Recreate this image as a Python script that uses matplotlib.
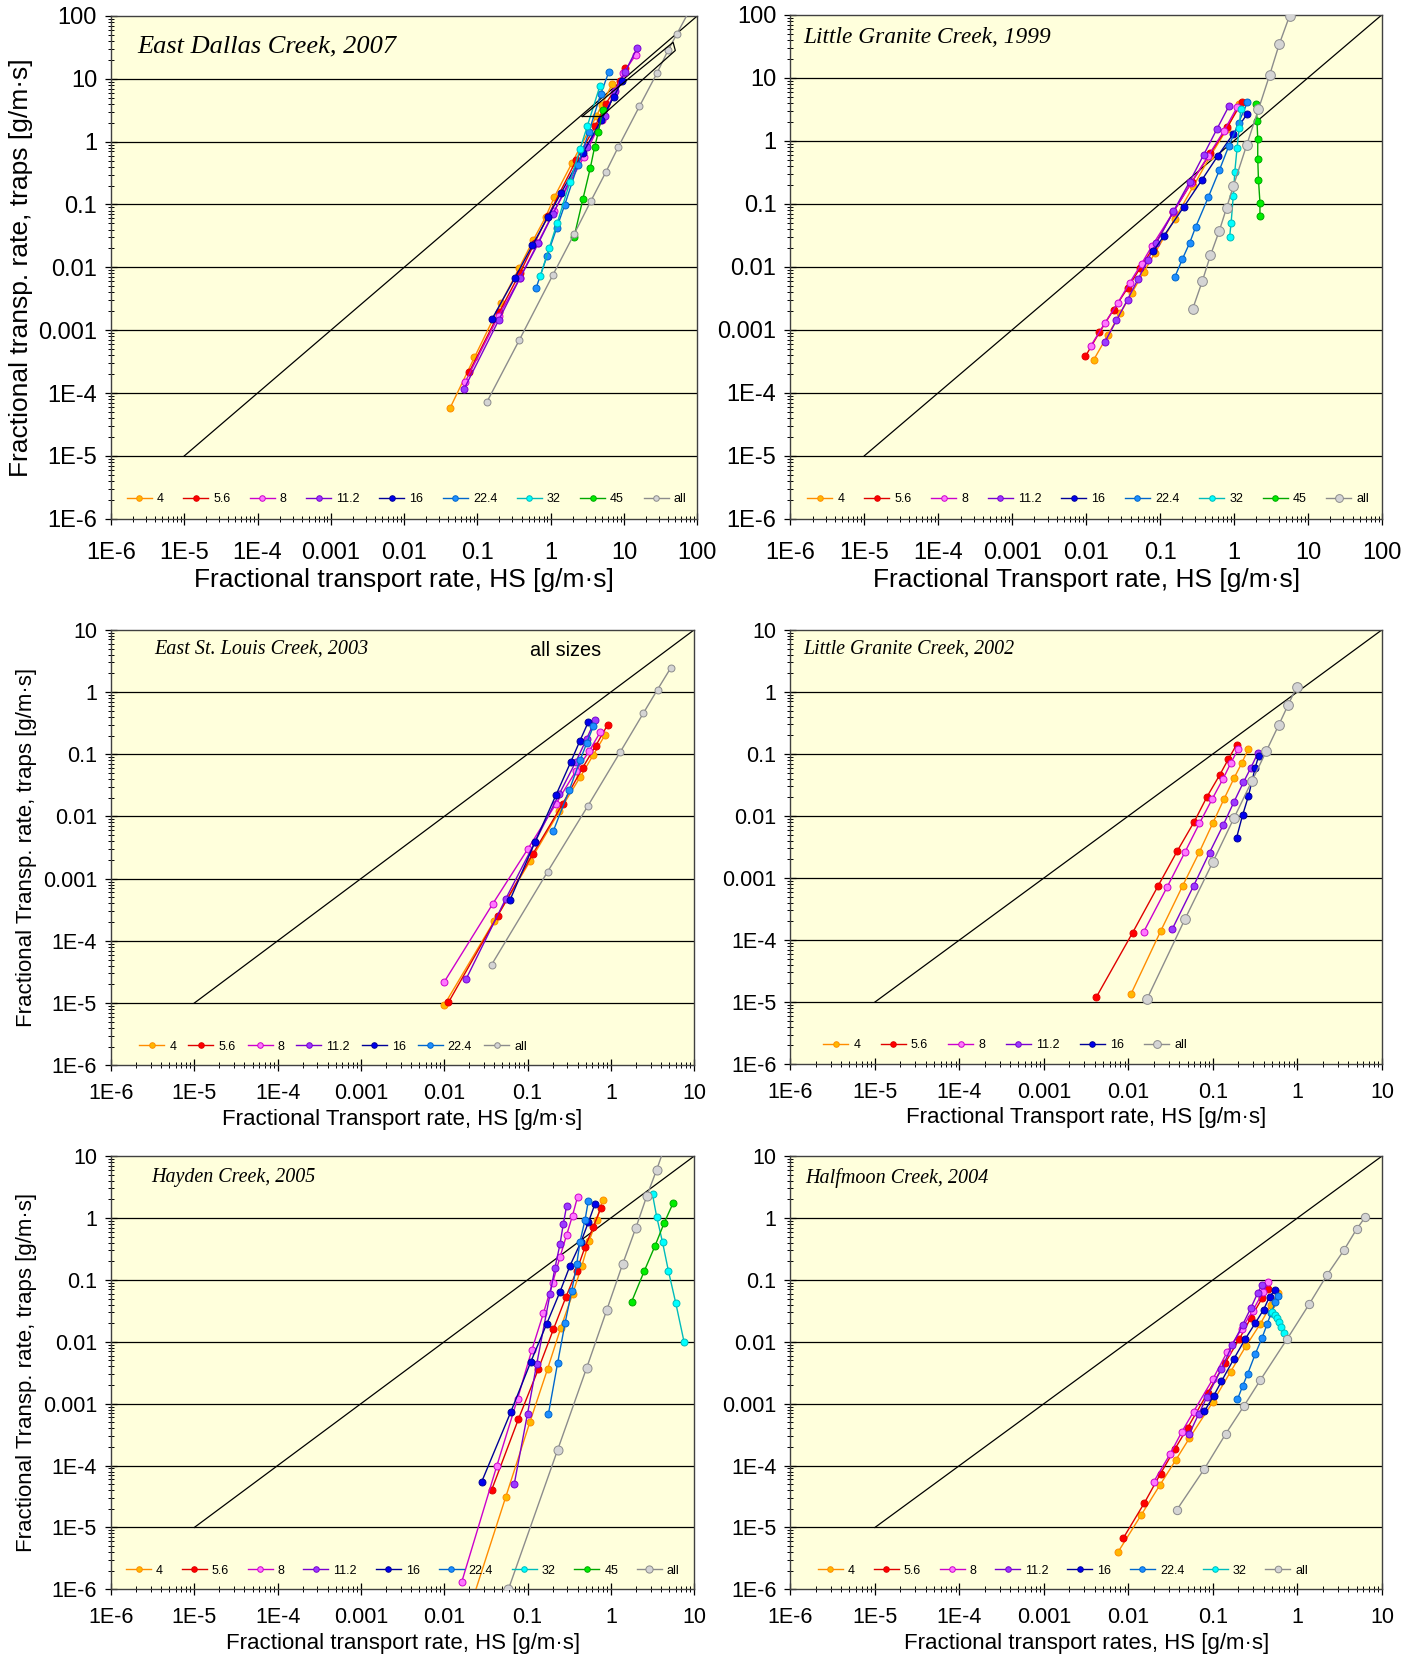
import numpy as np
import matplotlib
matplotlib.use("Agg")
import matplotlib.pyplot as plt
from matplotlib.ticker import FixedLocator, LogLocator, FuncFormatter, NullFormatter

plt.rcParams['font.family'] = ['Liberation Sans', 'DejaVu Sans']

# all readings are log10 of the rate [g/m·s]: x = HS sampler, y = bedload traps

# --- East Dallas Creek, 2007
ed_4x = [-1.37, -1.04, -0.68, -0.43, -0.24, -0.07, 0.05, 0.29, 0.62, 0.70, 0.84]
ed_4y = [-4.23, -3.43, -2.57, -2.01, -1.57, -1.20, -0.88, -0.34, 0.40, 0.59, 0.92]
ed_56x = [-1.11, -0.70, -0.42, -0.22, -0.04, 0.35, 0.61, 0.75, 0.95, 1.01]
ed_56y = [-3.66, -2.71, -2.09, -1.61, -1.19, -0.29, 0.25, 0.60, 0.96, 1.17]
ed_8x = [-1.17, -0.71, -0.42, -0.18, 0.05, 0.45, 0.70, 0.87, 0.99, 1.16]
ed_8y = [-3.83, -2.77, -2.17, -1.62, -1.10, -0.25, 0.35, 0.78, 1.09, 1.38]
ed_112x = [-1.18, -0.71, -0.42, -0.17, 0.03, 0.49, 0.74, 0.88, 1.01, 1.18]
ed_112y = [-3.93, -2.84, -2.17, -1.62, -1.15, -0.08, 0.40, 0.80, 1.10, 1.49]
ed_16x = [-0.80, -0.49, -0.25, -0.04, 0.14, 0.44, 0.69, 0.86, 0.97]
ed_16y = [-2.82, -2.17, -1.65, -1.20, -0.82, -0.18, 0.35, 0.71, 0.96]
ed_224x = [-0.20, -0.05, 0.08, 0.19, 0.37, 0.52, 0.68, 0.79]
ed_224y = [-2.33, -1.82, -1.38, -1.01, -0.37, 0.15, 0.75, 1.10]
ed_32x = [-0.14, -0.02, 0.09, 0.26, 0.40, 0.50, 0.67]
ed_32y = [-2.13, -1.69, -1.29, -0.65, -0.12, 0.25, 0.88]
ed_45x = [0.32, 0.44, 0.54, 0.60, 0.65, 0.71]
ed_45y = [-1.51, -0.91, -0.42, -0.08, 0.15, 0.50]
ed_allx = [-0.87, -0.43, 0.03, 0.32, 0.55, 0.75, 0.92, 1.21, 1.45, 1.60, 1.72, 1.90]
ed_ally = [-4.14, -3.16, -2.12, -1.47, -0.94, -0.49, -0.09, 0.56, 1.09, 1.45, 1.71, 2.10]
ed_boxx = [0.43, 1.67, 1.70, 0.69, 0.43]
ed_boxy = [0.40, 1.58, 1.45, 0.40, 0.40]

# --- Little Granite Creek, 1999
g99_4x = [-1.90, -1.71, -1.54, -1.38, -1.22, -1.07, -0.80, -0.55, -0.32, -0.10, 0.07]
g99_4y = [-3.48, -3.09, -2.74, -2.41, -2.08, -1.78, -1.24, -0.72, -0.24, 0.18, 0.58]
g99_56x = [-2.01, -1.82, -1.63, -1.44, -1.27, -1.10, -0.82, -0.57, -0.32, -0.09, 0.11]
g99_56y = [-3.42, -3.04, -2.68, -2.34, -2.02, -1.71, -1.13, -0.65, -0.20, 0.22, 0.62]
g99_8x = [-1.94, -1.75, -1.57, -1.41, -1.25, -1.11, -0.82, -0.58, -0.35, -0.14, 0.04]
g99_8y = [-3.26, -2.90, -2.57, -2.25, -1.95, -1.67, -1.13, -0.67, -0.24, 0.15, 0.53]
g99_112x = [-1.75, -1.59, -1.44, -1.30, -1.17, -1.05, -0.82, -0.60, -0.41, -0.23, -0.07]
g99_112y = [-3.20, -2.85, -2.52, -2.20, -1.90, -1.62, -1.12, -0.65, -0.22, 0.19, 0.55]
g99_16x = [-1.09, -0.95, -0.68, -0.44, -0.22, -0.01, 0.18]
g99_16y = [-1.75, -1.51, -1.05, -0.63, -0.24, 0.11, 0.43]
g99_224x = [-0.80, -0.70, -0.60, -0.52, -0.35, -0.20, -0.07, 0.06, 0.18]
g99_224y = [-2.16, -1.88, -1.62, -1.37, -0.90, -0.47, -0.08, 0.28, 0.61]
g99_32x = [-0.06, -0.04, -0.01, 0.01, 0.04, 0.07, 0.09]
g99_32y = [-1.53, -1.30, -0.87, -0.49, -0.12, 0.21, 0.51]
g99_45x = [0.35, 0.35, 0.33, 0.32, 0.32, 0.31, 0.30]
g99_45y = [-1.19, -0.98, -0.62, -0.29, 0.03, 0.32, 0.58]
g99_allx = [-0.56, -0.43, -0.32, -0.20, -0.10, -0.01, 0.17, 0.33, 0.48, 0.61, 0.75]
g99_ally = [-2.67, -2.23, -1.82, -1.43, -1.06, -0.72, -0.07, 0.50, 1.04, 1.53, 1.98]

# --- East St. Louis Creek, 2003
sl_4x = [-2.00, -1.40, -0.97, -0.62, -0.37, -0.21, -0.07]
sl_4y = [-5.03, -3.68, -2.72, -1.92, -1.37, -1.01, -0.69]
sl_56x = [-1.95, -1.36, -0.94, -0.58, -0.34, -0.18, -0.04]
sl_56y = [-4.99, -3.60, -2.61, -1.80, -1.22, -0.86, -0.53]
sl_8x = [-2.00, -1.42, -1.00, -0.66, -0.42, -0.26, -0.13]
sl_8y = [-4.66, -3.41, -2.53, -1.80, -1.27, -0.95, -0.65]
sl_112x = [-1.74, -1.26, -0.91, -0.62, -0.42, -0.29, -0.19]
sl_112y = [-4.62, -3.32, -2.41, -1.64, -1.12, -0.75, -0.45]
sl_16x = [-1.21, -0.91, -0.66, -0.48, -0.37, -0.27]
sl_16y = [-3.34, -2.41, -1.66, -1.12, -0.78, -0.48]
sl_224x = [-0.69, -0.50, -0.37, -0.29, -0.21]
sl_224y = [-2.23, -1.58, -1.10, -0.82, -0.55]
sl_allx = [-1.43, -0.76, -0.28, 0.11, 0.39, 0.56, 0.72]
sl_ally = [-4.38, -2.89, -1.84, -0.97, -0.34, 0.04, 0.39]

# --- Little Granite Creek, 2002
g02_4x = [-1.97, -1.62, -1.36, -1.16, -1.00, -0.87, -0.75, -0.66, -0.58]
g02_4y = [-4.87, -3.86, -3.13, -2.58, -2.11, -1.73, -1.39, -1.15, -0.92]
g02_56x = [-2.38, -1.95, -1.65, -1.42, -1.22, -1.07, -0.92, -0.82, -0.72]
g02_56y = [-4.92, -3.88, -3.13, -2.56, -2.09, -1.69, -1.34, -1.09, -0.85]
g02_8x = [-1.82, -1.54, -1.33, -1.16, -1.01, -0.88, -0.79, -0.70]
g02_8y = [-3.87, -3.14, -2.58, -2.12, -1.73, -1.40, -1.15, -0.92]
g02_112x = [-1.48, -1.23, -1.04, -0.88, -0.75, -0.64, -0.55, -0.47]
g02_112y = [-3.82, -3.13, -2.59, -2.15, -1.77, -1.46, -1.22, -0.99]
g02_16x = [-0.72, -0.65, -0.58, -0.50, -0.46]
g02_16y = [-2.35, -1.99, -1.68, -1.22, -1.04]
g02_allx = [-1.78, -1.33, -1.00, -0.75, -0.54, -0.37, -0.22, -0.11, -0.01]
g02_ally = [-4.95, -3.66, -2.74, -2.03, -1.44, -0.96, -0.53, -0.21, 0.08]

# --- Hayden Creek, 2005
hc_4x = [-1.74, -1.26, -0.97, -0.76, -0.60, -0.46, -0.35, -0.26, -0.17, -0.10]
hc_4y = [-6.50, -4.50, -3.29, -2.44, -1.77, -1.23, -0.78, -0.37, -0.03, 0.29]
hc_56x = [-1.43, -1.11, -0.87, -0.69, -0.54, -0.41, -0.31, -0.21, -0.12]
hc_56y = [-4.39, -3.25, -2.44, -1.80, -1.28, -0.85, -0.47, -0.14, 0.16]
hc_8x = [-1.79, -1.37, -1.12, -0.95, -0.81, -0.70, -0.61, -0.53, -0.46, -0.40]
hc_8y = [-5.88, -4.01, -2.92, -2.14, -1.54, -1.05, -0.63, -0.27, 0.04, 0.34]
hc_112x = [-1.16, -1.00, -0.89, -0.73, -0.67, -0.61, -0.57, -0.53]
hc_112y = [-4.30, -3.16, -2.36, -1.23, -0.80, -0.42, -0.09, 0.20]
hc_16x = [-1.55, -1.20, -0.96, -0.77, -0.61, -0.49, -0.36, -0.27, -0.19]
hc_16y = [-4.26, -3.13, -2.32, -1.71, -1.19, -0.77, -0.39, -0.07, 0.23]
hc_224x = [-0.75, -0.64, -0.55, -0.47, -0.41, -0.37, -0.31, -0.27]
hc_224y = [-3.17, -2.35, -1.70, -1.18, -0.75, -0.38, -0.03, 0.28]
hc_32x = [0.50, 0.55, 0.62, 0.69, 0.78, 0.88]
hc_32y = [0.38, 0.02, -0.39, -0.85, -1.38, -2.01]
hc_45x = [0.25, 0.40, 0.53, 0.64, 0.75]
hc_45y = [-1.35, -0.86, -0.45, -0.08, 0.25]
hc_allx = [-1.23, -0.64, -0.29, -0.05, 0.14, 0.30, 0.43, 0.55, 0.66]
hc_ally = [-6.00, -3.75, -2.42, -1.49, -0.75, -0.16, 0.35, 0.78, 1.20]

# --- Halfmoon Creek, 2004
hm_4x = [-2.12, -1.85, -1.63, -1.44, -1.28, -1.00, -0.79, -0.61, -0.44, -0.31, -0.23]
hm_4y = [-5.39, -4.80, -4.32, -3.91, -3.56, -2.97, -2.48, -2.07, -1.71, -1.40, -1.21]
hm_56x = [-2.06, -1.81, -1.62, -1.45, -1.30, -1.06, -0.86, -0.69, -0.55, -0.42, -0.35]
hm_56y = [-5.17, -4.60, -4.13, -3.73, -3.39, -2.82, -2.35, -1.96, -1.61, -1.30, -1.15]
hm_8x = [-1.70, -1.51, -1.37, -1.23, -1.00, -0.83, -0.66, -0.53, -0.41, -0.35]
hm_8y = [-4.26, -3.82, -3.46, -3.13, -2.60, -2.16, -1.79, -1.50, -1.20, -1.04]
hm_112x = [-1.28, -1.17, -1.07, -0.90, -0.77, -0.65, -0.55, -0.47, -0.42]
hm_112y = [-3.49, -3.17, -2.89, -2.44, -2.05, -1.73, -1.45, -1.21, -1.08]
hm_16x = [-1.10, -0.99, -0.90, -0.75, -0.62, -0.50, -0.40, -0.33, -0.27]
hm_16y = [-3.12, -2.87, -2.64, -2.27, -1.96, -1.70, -1.48, -1.27, -1.17]
hm_224x = [-0.71, -0.65, -0.59, -0.50, -0.42, -0.36, -0.31, -0.26, -0.23]
hm_224y = [-2.93, -2.72, -2.52, -2.20, -1.94, -1.72, -1.53, -1.36, -1.26]
hm_32x = [-0.30, -0.26, -0.24, -0.22, -0.19, -0.16, -0.12]
hm_32y = [-1.52, -1.56, -1.61, -1.68, -1.76, -1.85, -1.95]
hm_allx = [-1.43, -1.10, -0.85, -0.63, -0.44, -0.12, 0.14, 0.35, 0.55, 0.70, 0.80]
hm_ally = [-4.72, -4.05, -3.49, -3.03, -2.62, -1.95, -1.39, -0.92, -0.52, -0.18, 0.01]

# size class -> (line colour, marker face)
styles = {
    '4':    ('#FF8C00', '#FFB800'),
    '5.6':  ('#E00000', '#FF0000'),
    '8':    ('#CC00CC', '#FF77FF'),
    '11.2': ('#7A00D0', '#9B3BFF'),
    '16':   ('#000099', '#0000EE'),
    '22.4': ('#0066CC', '#1E8FFF'),
    '32':   ('#00BBBB', '#00FFFF'),
    '45':   ('#00A800', '#00EE00'),
    'all':  ('#8C8C8C', '#D4D4D4'),
}

panels = [
    dict(title='East Dallas Creek, 2007', tsize=19, tpos=(0.045, 0.94), xmax=2, ymax=2, big=True,
         xlabel='Fractional transport rate, HS [g/m·s]', ylabel='Fractional transp. rate, traps [g/m·s]',
         series=[('4', ed_4x, ed_4y), ('5.6', ed_56x, ed_56y), ('8', ed_8x, ed_8y),
                 ('11.2', ed_112x, ed_112y), ('16', ed_16x, ed_16y), ('22.4', ed_224x, ed_224y),
                 ('32', ed_32x, ed_32y), ('45', ed_45x, ed_45y), ('all', ed_allx, ed_ally)],
         allsize=5, leg=(0.014, 0.98)),
    dict(title='Little Granite Creek, 1999', tsize=16.8, tpos=(0.022, 0.955), xmax=2, ymax=2, big=True,
         xlabel='Fractional Transport rate, HS [g/m·s]', ylabel=None,
         series=[('4', g99_4x, g99_4y), ('5.6', g99_56x, g99_56y), ('8', g99_8x, g99_8y),
                 ('11.2', g99_112x, g99_112y), ('16', g99_16x, g99_16y), ('22.4', g99_224x, g99_224y),
                 ('32', g99_32x, g99_32y), ('45', g99_45x, g99_45y), ('all', g99_allx, g99_ally)],
         allsize=7, leg=(0.016, 0.975)),
    dict(title='East St. Louis Creek, 2003', tsize=14.5, tpos=(0.074, 0.955), xmax=1, ymax=1, big=False,
         xlabel='Fractional Transport rate, HS [g/m·s]', ylabel='Fractional Transp. rate, traps [g/m·s]',
         series=[('4', sl_4x, sl_4y), ('5.6', sl_56x, sl_56y), ('8', sl_8x, sl_8y),
                 ('11.2', sl_112x, sl_112y), ('16', sl_16x, sl_16y), ('22.4', sl_224x, sl_224y),
                 ('all', sl_allx, sl_ally)],
         allsize=5, leg=(0.036, 0.69)),
    dict(title='Little Granite Creek, 2002', tsize=14.4, tpos=(0.022, 0.955), xmax=1, ymax=1, big=False,
         xlabel='Fractional Transport rate, HS [g/m·s]', ylabel=None,
         series=[('4', g02_4x, g02_4y), ('5.6', g02_56x, g02_56y), ('8', g02_8x, g02_8y),
                 ('11.2', g02_112x, g02_112y), ('16', g02_16x, g02_16y), ('all', g02_allx, g02_ally)],
         allsize=7, leg=(0.043, 0.64)),
    dict(title='Hayden Creek, 2005', tsize=14.4, tpos=(0.069, 0.95), xmax=1, ymax=1, big=False,
         xlabel='Fractional transport rate, HS [g/m·s]', ylabel='Fractional Transp. rate, traps [g/m·s]',
         series=[('4', hc_4x, hc_4y), ('5.6', hc_56x, hc_56y), ('8', hc_8x, hc_8y),
                 ('11.2', hc_112x, hc_112y), ('16', hc_16x, hc_16y), ('22.4', hc_224x, hc_224y),
                 ('32', hc_32x, hc_32y), ('45', hc_45x, hc_45y), ('all', hc_allx, hc_ally)],
         allsize=6.5, leg=(0.013, 0.975)),
    dict(title='Halfmoon Creek, 2004', tsize=14.5, tpos=(0.025, 0.95), xmax=1, ymax=1, big=False,
         xlabel='Fractional transport rates, HS [g/m·s]', ylabel=None,
         series=[('4', hm_4x, hm_4y), ('5.6', hm_56x, hm_56y), ('8', hm_8x, hm_8y),
                 ('11.2', hm_112x, hm_112y), ('16', hm_16x, hm_16y), ('22.4', hm_224x, hm_224y),
                 ('32', hm_32x, hm_32y), ('all', hm_allx, hm_ally)],
         allsize=6, leg=(0.034, 0.854)),
]

# axes boxes in figure fractions [left, bottom, width, height]
boxes = [
    [0.0782, 0.6869, 0.4132, 0.3035],
    [0.5570, 0.6869, 0.4169, 0.3042],
    [0.0782, 0.3571, 0.4110, 0.2628],
    [0.5570, 0.3578, 0.4169, 0.2621],
    [0.0782, 0.0408, 0.4110, 0.2615],
    [0.5570, 0.0408, 0.4169, 0.2615],
]


def dec_label(v, pos):
    e = int(round(np.log10(v)))
    if e >= 0:
        return str(10 ** e)
    if e >= -3:
        return f"{10.0 ** e:.{-e}f}"
    return f"1E{e}"


fig = plt.figure(figsize=(14.19, 16.57), dpi=100)

for p, box in zip(panels, boxes):
    ax = fig.add_axes(box)
    ax.set_facecolor('#FFFFDC')
    ax.set_xscale('log')
    ax.set_yscale('log')
    xlo, xhi = 1e-6, 10.0 ** p['xmax']
    ylo, yhi = 1e-6, 10.0 ** p['ymax']
    ax.set_xlim(xlo, xhi)
    ax.set_ylim(ylo, yhi)

    ydec = [10.0 ** k for k in range(-6, p['ymax'] + 1)]
    xdec = [10.0 ** k for k in range(-6, p['xmax'] + 1)]
    for yv in ydec[1:-1]:
        ax.axhline(yv, color='black', lw=0.9, zorder=1)

    # 1:1 line
    ax.plot([1e-5, xhi], [1e-5, xhi], color='black', lw=0.9, zorder=2)

    handles = []
    for key, xs, ys in p['series']:
        lc, fc = styles[key]
        ms = p['allsize'] if key == 'all' else 5
        h, = ax.plot(10 ** np.array(xs), 10 ** np.array(ys), '-o', color=lc, lw=1.0,
                     ms=ms, mfc=fc, mec=lc, mew=0.7, label=key, zorder=3)
        handles.append(h)

    if p['title'].startswith('East Dallas'):
        ax.plot(10 ** np.array(ed_boxx), 10 ** np.array(ed_boxy), color='black', lw=0.9, zorder=4)
    if p['title'].startswith('East St. Louis'):
        ax.text(0.78, 0.952, 'all sizes', transform=ax.transAxes, fontsize=14.3,
                ha='center', va='center')

    ax.text(p['tpos'][0], p['tpos'][1], p['title'], transform=ax.transAxes,
            fontsize=p['tsize'], family='Liberation Serif', style='italic', va='center')

    ax.xaxis.set_major_locator(FixedLocator(xdec))
    ax.yaxis.set_major_locator(FixedLocator(ydec))
    ax.xaxis.set_minor_locator(LogLocator(base=10, subs=np.arange(2, 10)))
    ax.yaxis.set_minor_locator(LogLocator(base=10, subs=np.arange(2, 10)))
    ax.xaxis.set_major_formatter(FuncFormatter(dec_label))
    ax.yaxis.set_major_formatter(FuncFormatter(dec_label))
    ax.xaxis.set_minor_formatter(NullFormatter())
    ax.yaxis.set_minor_formatter(NullFormatter())

    tfs = 17 if p['big'] else 15.5
    lfs = 19 if p['big'] else 16
    ax.tick_params(which='major', direction='inout', length=8, width=0.9, labelsize=tfs)
    ax.tick_params(axis='y', which='major', pad=6)
    ax.tick_params(axis='x', which='major', pad=12.5 if p['big'] else 9)
    ax.tick_params(which='minor', direction='inout', length=5, width=0.7)
    for s in ax.spines.values():
        s.set_color('#404040')
        s.set_linewidth(1.0)

    ax.set_xlabel(p['xlabel'], fontsize=lfs, labelpad=3)
    if p['ylabel']:
        ax.set_ylabel(p['ylabel'], fontsize=lfs, labelpad=4)

    x0, w = p['leg']
    ax.legend(handles=handles, ncol=len(handles), loc='lower left', mode='expand',
              bbox_to_anchor=(x0, 0.012, w, 0.06), frameon=False, fontsize=9,
              handlelength=2.0, handletextpad=0.4, borderaxespad=0.2, markerscale=0.8)

fig.savefig('out.png', dpi=100)
